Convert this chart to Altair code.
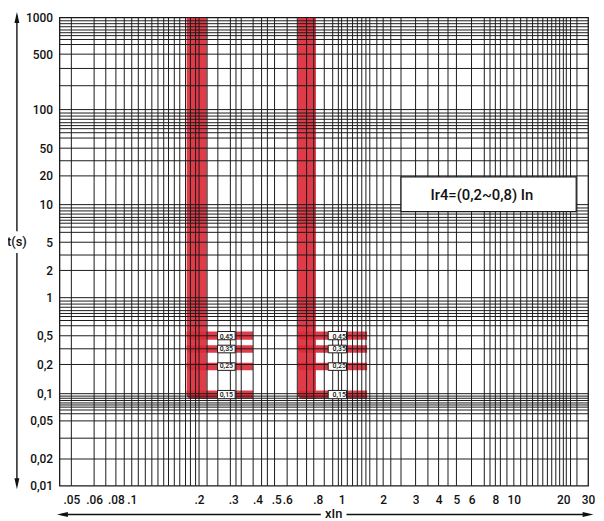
import altair as alt
import pandas as pd

# ---------------- data ----------------
# axis tick values
x_ticks = [0.05, 0.06, 0.08, 0.1, 0.2, 0.3, 0.4, 0.5, 0.6, 0.8, 1, 2, 3, 4, 5, 6, 8, 10, 20, 30]
y_ticks = [0.01, 0.02, 0.05, 0.1, 0.2, 0.5, 1, 2, 5, 10, 20, 50, 100, 500, 1000]

# printed grid lines of the datasheet
x_grid = [0.05, 0.06, 0.07, 0.08, 0.09,
          0.1, 0.107, 0.115, 0.123, 0.131, 0.139, 0.146, 0.155, 0.164, 0.174, 0.183, 0.193,
          0.2, 0.22, 0.25, 0.29, 0.31, 0.33, 0.38, 0.42, 0.45, 0.49, 0.6, 0.66, 0.72, 0.77, 0.85, 0.92, 0.97,
          1, 1.1, 1.2, 1.3, 1.4, 1.5, 1.6, 1.8,
          2, 2.2, 2.5, 3, 3.5, 4, 4.5, 5, 6, 7, 7.5, 8, 8.5, 9.2,
          10, 11, 12, 13, 14, 15, 16, 17, 18, 19, 20, 21, 22.5, 25]
y_grid_mult = [0.2, 0.33, 0.5, 0.6, 0.66, 0.71, 0.75, 0.79, 0.84, 0.89, 0.94, 1.0]
y_grid_decades = [1000, 100, 10, 1, 0.1]

# tripping bands (Ir4 = 0.2 In and Ir4 = 0.8 In)
band_group = ["0.2", "0.8"]
band_col_lo = [0.176, 0.664]
band_col_hi = [0.219, 0.786]
band_step_end = [0.379, 1.53]
band_box_lo = [0.249, 0.882]
band_box_hi = [0.307, 1.085]
band_top = 1000
step_lo = [0.44, 0.29, 0.174, 0.088]
step_hi = [0.54, 0.37, 0.211, 0.108]
step_labels = ["0,45", "0,35", "0,25", "0,15"]

# annotation box
note_text = "Ir4=(0,2~0,8) In"
note_x = [2.5, 24.7]
note_t = [8.8, 19.5]
note_text_x = 6.8
note_text_t = 12.5

# ---------------- scales (datasheet scale is hand-drawn: piecewise log) ----------------
x_scale_dom = [0.0424, 0.05, 0.06, 0.08, 0.1, 0.2, 0.5, 0.6, 1, 2, 5, 10, 20, 30]
x_scale_rng = [0, 12, 35, 57, 73, 141, 219, 230, 285, 327, 401, 459, 509, 534]
y_scale_dom = [0.01, 0.02, 0.05, 0.1, 0.2, 0.5, 1, 2, 5, 10, 20, 50, 100, 500, 1000]
y_scale_rng = [473, 446, 407.5, 380, 350.5, 321.5, 283, 255.5, 227, 189, 160, 132, 93, 37, 0]

W, H = 534, 473
RED = "#dc2a38"
INK = "#1a1a1a"
FONT = "Roboto"

xs = alt.Scale(type="log", domain=x_scale_dom, range=x_scale_rng, nice=False)
ys = alt.Scale(type="log", domain=y_scale_dom, range=y_scale_rng, nice=False)

x_axis = alt.Axis(values=x_ticks, grid=False, ticks=False, tickSize=0, domain=False,
                  labelExpr="datum.value < 1 ? replace(format(datum.value, '~g'), '0.', '.') : format(datum.value, '~g')",
                  labelPadding=9, labelFontSize=12, labelFont=FONT, labelFontWeight=500,
                  labelColor="#111", labelOverlap=False, labelFlush=False, title=None)
y_axis = alt.Axis(values=y_ticks, grid=False, ticks=False, tickSize=0, domain=False,
                  labelExpr="replace(format(datum.value, '~g'), '.', ',')",
                  labelPadding=7, labelFontSize=12, labelFont=FONT, labelFontWeight=500,
                  labelColor="#111", labelOverlap=False, labelFlush=False, title=None)


def X(field):
    return alt.X(field, type="quantitative", scale=xs, axis=x_axis)


def Y(field):
    return alt.Y(field, type="quantitative", scale=ys, axis=y_axis)


# ---------------- tables ----------------
cols = pd.DataFrame({"g": band_group, "x0": band_col_lo, "x1": band_col_hi,
                     "t0": [step_lo[-1]] * 2, "t1": [band_top] * 2})
steps_rows = []
boxes_rows = []
for gi in range(len(band_group)):
    for si in range(len(step_lo)):
        steps_rows.append({"x0": band_col_lo[gi], "x1": band_step_end[gi],
                           "t0": step_lo[si], "t1": step_hi[si]})
        boxes_rows.append({"x0": band_box_lo[gi], "x1": band_box_hi[gi],
                           "t0": step_lo[si], "t1": step_hi[si],
                           "xm": (band_box_lo[gi] * band_box_hi[gi]) ** 0.5,
                           "tm": (step_lo[si] * step_hi[si]) ** 0.5,
                           "label": step_labels[si]})
steps = pd.DataFrame(steps_rows)
boxes = pd.DataFrame(boxes_rows)

vgrid = pd.DataFrame({"x": x_grid})
hgrid = pd.DataFrame({"t": sorted({round(d * m, 6) for d in y_grid_decades for m in y_grid_mult})})
note = pd.DataFrame({"x0": [note_x[0]], "x1": [note_x[1]], "t0": [note_t[0]], "t1": [note_t[1]],
                     "xm": [note_text_x], "tm": [note_text_t], "label": [note_text]})
one = pd.DataFrame({"a": [0]})

# ---------------- layers ----------------
col_layer = alt.Chart(cols).mark_rect(color=RED, opacity=0.92, cornerRadiusBottomLeft=5).encode(
    x=X("x0"), x2="x1", y=Y("t0"), y2="t1")
step_layer = alt.Chart(steps).mark_rect(color=RED, opacity=0.92, cornerRadiusBottomLeft=4).encode(
    x=X("x0"), x2="x1", y=Y("t0"), y2="t1")

vgrid_layer = alt.Chart(vgrid).mark_rule(color=INK, strokeWidth=1).encode(x=X("x"))
hgrid_layer = alt.Chart(hgrid).mark_rule(color=INK, strokeWidth=1).encode(y=Y("t"))

box_layer = alt.Chart(boxes).mark_rect(fill="white", stroke=INK, strokeWidth=1).encode(
    x=X("x0"), x2="x1", y=Y("t0"), y2="t1")
box_text = alt.Chart(boxes).mark_text(fontSize=7, font=FONT, fontWeight=500, color="#111",
                                      baseline="middle", align="center").encode(
    x=X("xm"), y=Y("tm"), text="label")

note_box = alt.Chart(note).mark_rect(fill="white", stroke=INK, strokeWidth=1.2).encode(
    x=X("x0"), x2="x1", y=Y("t0"), y2="t1")
note_lbl = alt.Chart(note).mark_text(fontSize=15, font=FONT, fontWeight=500, color="#111",
                                     baseline="middle", align="center").encode(
    x=X("xm"), y=Y("tm"), text="label")

# axis arrows and titles
arrow_style = dict(color="#111", strokeWidth=1.4)
ay1 = alt.Chart(one).mark_rule(**arrow_style).encode(x=alt.value(-43), y=alt.value(-2), y2=alt.value(216))
ay2 = alt.Chart(one).mark_rule(**arrow_style).encode(x=alt.value(-43), y=alt.value(238), y2=alt.value(472))
ax1 = alt.Chart(one).mark_rule(**arrow_style).encode(x=alt.value(2), x2=alt.value(264), y=alt.value(502))
ax2 = alt.Chart(one).mark_rule(**arrow_style).encode(x=alt.value(290), x2=alt.value(534), y=alt.value(502))

head = dict(filled=True, size=121, color="#111", opacity=1, strokeWidth=0)
h_up = alt.Chart(one).mark_point(shape="M0,-1L0.45,1L-0.45,1Z", **head).encode(x=alt.value(-43), y=alt.value(0))
h_dn = alt.Chart(one).mark_point(shape="M0,1L0.45,-1L-0.45,-1Z", **head).encode(x=alt.value(-43), y=alt.value(471))
h_lf = alt.Chart(one).mark_point(shape="M-1,0L1,-0.45L1,0.45Z", **head).encode(x=alt.value(3), y=alt.value(502))
h_rt = alt.Chart(one).mark_point(shape="M1,0L-1,-0.45L-1,0.45Z", **head).encode(x=alt.value(534), y=alt.value(502))

t_title = alt.Chart(one).mark_text(text="t(s)", fontSize=13, font=FONT, fontWeight=500, color="#111",
                                   baseline="middle", align="center").encode(x=alt.value(-43), y=alt.value(227))
x_title = alt.Chart(one).mark_text(text="xIn", fontSize=13, font=FONT, fontWeight=500, color="#111",
                                   baseline="middle", align="center").encode(x=alt.value(277), y=alt.value(502))

chart = alt.layer(
    col_layer, step_layer, vgrid_layer, hgrid_layer, box_layer, box_text, note_box, note_lbl,
    ay1, ay2, ax1, ax2, h_up, h_dn, h_lf, h_rt, t_title, x_title
).properties(
    width=W, height=H,
    autosize=alt.AutoSizeParams(type="none"),
    padding={"left": 52, "top": 7, "right": 8, "bottom": 33},
    background="white",
).configure_view(stroke=INK, strokeWidth=1.3)

chart.save("out.html", embed_options={"renderer": "svg", "actions": False})
